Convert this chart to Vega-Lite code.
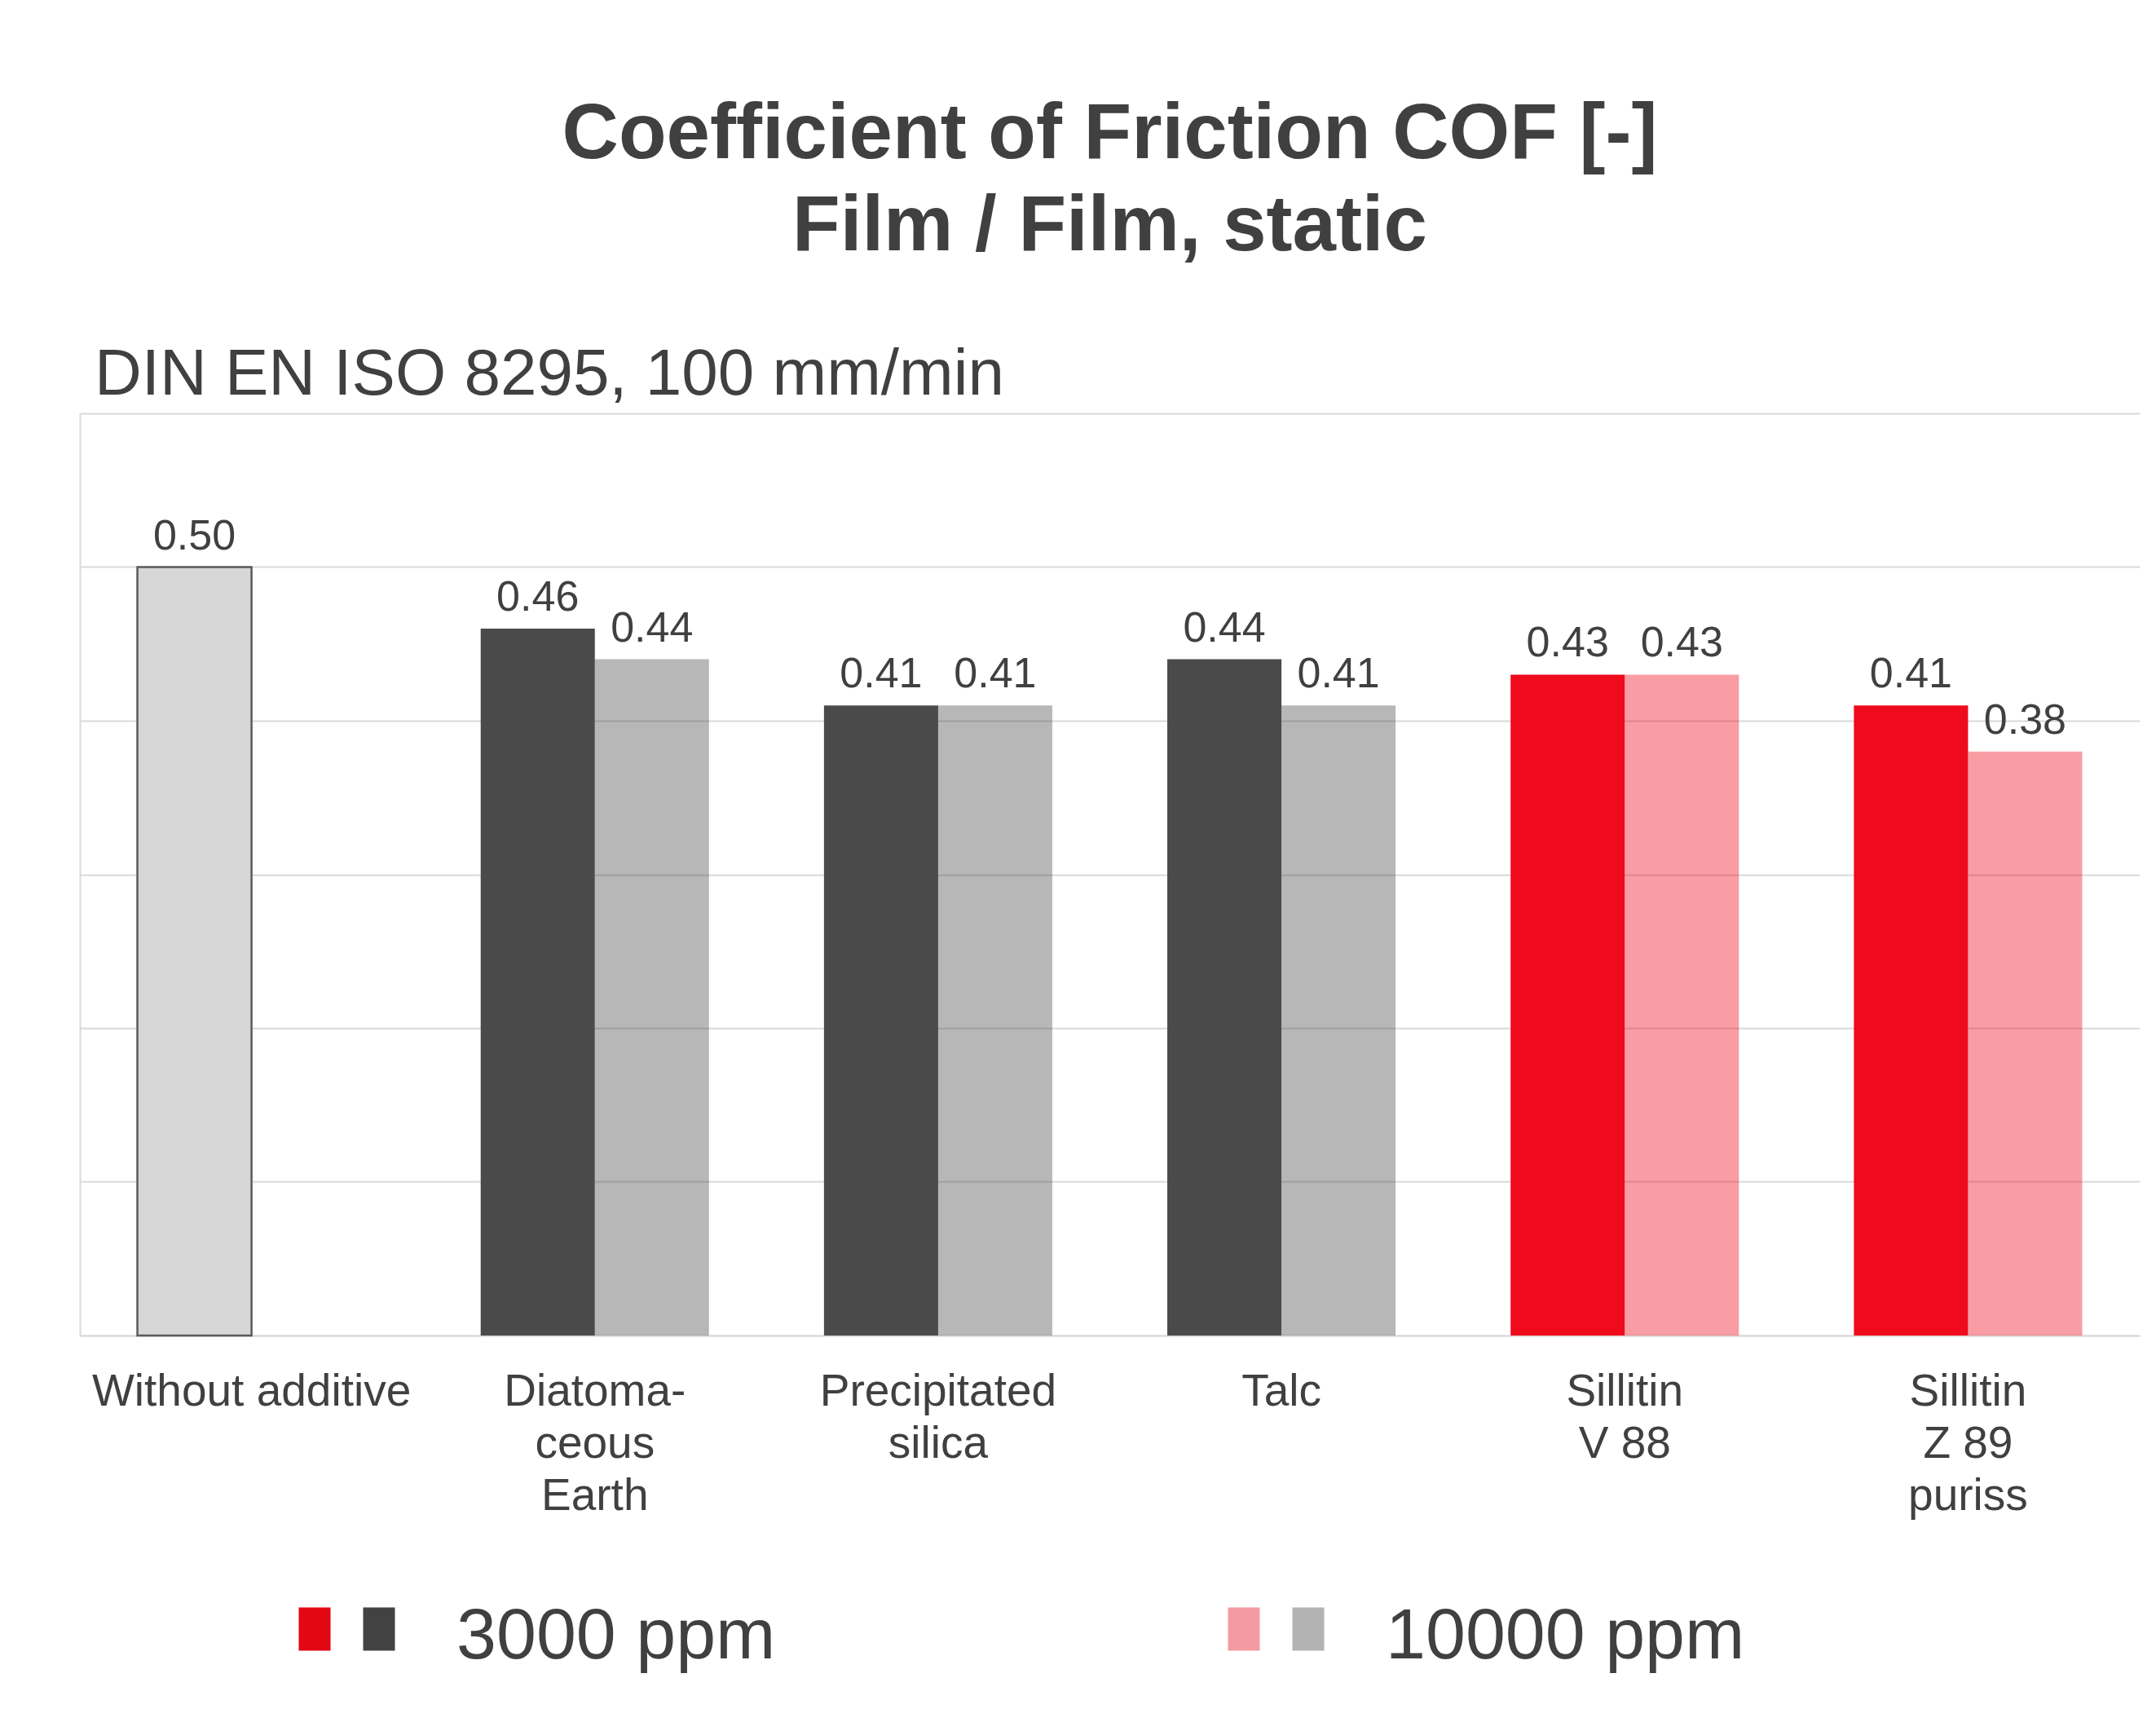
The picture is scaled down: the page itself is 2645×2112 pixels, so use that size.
{
  "$schema": "https://vega.github.io/schema/vega-lite/v6.json",
  "background": "white",
  "padding": {"left": 98, "top": 117, "right": 20, "bottom": 10},
  "config": {
    "font": "Liberation Sans",
    "view": {"stroke": null},
    "concat": {"spacing": 86}
  },
  "title": {
    "text": ["Coefficient of Friction COF [-]", "Film / Film, static"],
    "anchor": "middle",
    "frame": "bounds",
    "fontSize": 96,
    "fontWeight": "bold",
    "color": "#404040",
    "lineHeight": 113,
    "baseline": "bottom",
    "offset": -3
  },
  "datasets": {
    "bars": [
      {"material": "Without additive", "type": "Reference", "ppm": "3000 ppm", "cof": 0.50},
      {"material": "Diatoma-\nceous\nEarth", "type": "Other", "ppm": "3000 ppm", "cof": 0.46},
      {"material": "Diatoma-\nceous\nEarth", "type": "Other", "ppm": "10000 ppm", "cof": 0.44},
      {"material": "Precipitated\nsilica", "type": "Other", "ppm": "3000 ppm", "cof": 0.41},
      {"material": "Precipitated\nsilica", "type": "Other", "ppm": "10000 ppm", "cof": 0.41},
      {"material": "Talc", "type": "Other", "ppm": "3000 ppm", "cof": 0.44},
      {"material": "Talc", "type": "Other", "ppm": "10000 ppm", "cof": 0.41},
      {"material": "Sillitin\nV 88", "type": "Sillitin", "ppm": "3000 ppm", "cof": 0.43},
      {"material": "Sillitin\nV 88", "type": "Sillitin", "ppm": "10000 ppm", "cof": 0.43},
      {"material": "Sillitin\nZ 89\npuriss", "type": "Sillitin", "ppm": "3000 ppm", "cof": 0.41},
      {"material": "Sillitin\nZ 89\npuriss", "type": "Sillitin", "ppm": "10000 ppm", "cof": 0.38}
    ],
    "legend": [
      {"entry": "3000 ppm", "swatch": "Sillitin"},
      {"entry": "3000 ppm", "swatch": "Other"},
      {"entry": "10000 ppm", "swatch": "Sillitin"},
      {"entry": "10000 ppm", "swatch": "Other"}
    ]
  },
  "resolve": {"scale": {"x": "independent", "color": "independent", "opacity": "independent"}},
  "vconcat": [
    {
      "width": 2527,
      "height": 1131,
      "data": {"name": "bars"},
      "title": {
        "text": "DIN EN ISO 8295, 100 mm/min",
        "anchor": "start",
        "frame": "group",
        "dx": 18,
        "offset": -57,
        "fontSize": 80,
        "fontWeight": "normal",
        "color": "#404040",
        "baseline": "alphabetic"
      },
      "encoding": {
        "x": {
          "field": "material",
          "type": "nominal",
          "sort": null,
          "scale": {"paddingInner": 0.335, "paddingOuter": 0.1675},
          "axis": {
            "title": null,
            "labelAngle": 0,
            "labelFontSize": 55,
            "labelColor": "#404040",
            "labelPadding": 42,
            "labelLineHeight": 64,
            "labelBaseline": "top",
            "labelLimit": 0,
            "labelExpr": "split(datum.label, '\\n')",
            "ticks": false,
            "tickSize": 0,
            "domainColor": "#d9d9d9",
            "domainWidth": 2,
            "grid": false
          }
        },
        "xOffset": {
          "field": "ppm",
          "type": "nominal",
          "sort": ["3000 ppm", "10000 ppm"],
          "scale": {"paddingInner": 0, "paddingOuter": 0}
        },
        "y": {
          "field": "cof",
          "type": "quantitative",
          "scale": {"domain": [0, 0.6], "nice": false},
          "axis": {
            "title": null,
            "labels": false,
            "ticks": false,
            "tickSize": 0,
            "values": [0, 0.1, 0.2, 0.3, 0.4, 0.5, 0.6],
            "grid": true,
            "gridColor": "#d9d9d9",
            "gridWidth": 2,
            "domainColor": "#d9d9d9",
            "domainWidth": 2
          }
        }
      },
      "layer": [
        {
          "mark": {"type": "bar", "stroke": "#5a5a5a"},
          "encoding": {
            "color": {
              "field": "type",
              "type": "nominal",
              "scale": {"domain": ["Reference", "Other", "Sillitin"], "range": ["#d7d7d7", "#4a4a4a", "#ef0a1c"]},
              "legend": null
            },
            "opacity": {
              "field": "ppm",
              "type": "nominal",
              "scale": {"domain": ["3000 ppm", "10000 ppm"], "range": [1, 0.4]},
              "legend": null
            },
            "strokeWidth": {
              "condition": {"test": "datum.type === 'Reference'", "value": 2.5},
              "value": 0
            }
          }
        },
        {
          "mark": {"type": "text", "dy": -22, "fontSize": 52, "color": "#404040", "baseline": "alphabetic"},
          "encoding": {
            "text": {"field": "cof", "type": "quantitative", "format": ".2f"}
          }
        }
      ]
    },
    {
      "width": 2280,
      "height": 100,
      "data": {"name": "legend"},
      "encoding": {
        "x": {
          "field": "entry",
          "type": "nominal",
          "sort": ["3000 ppm", "10000 ppm"],
          "scale": {"paddingInner": 0, "paddingOuter": 0},
          "axis": null
        },
        "color": {"field": "swatch", "type": "nominal", "scale": {"domain": ["Sillitin", "Other"], "range": ["#e30613", "#424242"]}, "legend": null},
        "opacity": {"field": "entry", "type": "nominal", "scale": {"domain": ["3000 ppm", "10000 ppm"], "range": [1, 0.4]}, "legend": null}
      },
      "layer": [
        {
          "transform": [{"filter": "datum.swatch === 'Sillitin'"}],
          "mark": {"type": "point", "filled": true, "shape": "M-0.736,-1H0.736V1H-0.736Z", "size": 2809, "strokeWidth": 0, "xOffset": -282}
        },
        {
          "transform": [{"filter": "datum.swatch === 'Other'"}],
          "mark": {"type": "point", "filled": true, "shape": "M-0.736,-1H0.736V1H-0.736Z", "size": 2809, "strokeWidth": 0, "xOffset": -203}
        },
        {
          "transform": [{"filter": "datum.swatch === 'Sillitin'"}],
          "mark": {"type": "text", "align": "left", "baseline": "alphabetic", "dx": -108, "dy": 36, "fontSize": 88, "color": "#404040", "opacity": 1},
          "encoding": {
            "text": {"field": "entry", "type": "nominal"},
            "color": {"value": "#404040"},
            "opacity": {"value": 1}
          }
        }
      ]
    }
  ]
}
